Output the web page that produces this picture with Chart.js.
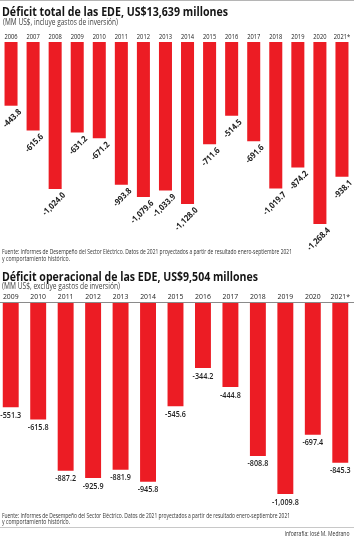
<!DOCTYPE html>
<html><head><meta charset="utf-8">
<script src="https://cdn.jsdelivr.net/npm/chart.js@4/dist/chart.umd.min.js"></script>
<style>
html,body{margin:0;padding:0;background:#fff;width:354px;height:536px;overflow:hidden;position:relative;font-family:"Open Sans",sans-serif;}
canvas{position:absolute;}
.t{position:absolute;white-space:nowrap;line-height:1;}
.rule{position:absolute;left:0;width:354px;height:1px;background:#b5b5b5;}
</style></head><body>
<div class="rule" style="top:0px;"></div>
<div class="rule" style="top:527px;background:#c8c8c8;"></div>
<canvas id="c1" width="354" height="258" style="left:0;top:0;"></canvas>
<canvas id="c2" width="357" height="252" style="left:-3px;top:260px;"></canvas>
<script>
// ---- data ----
const yearsTotal = ['2006','2007','2008','2009','2010','2011','2012','2013','2014','2015','2016','2017','2018','2019','2020','2021*'];
const deficitTotal = [-443.8,-615.6,-1024.0,-631.2,-671.2,-993.8,-1079.6,-1033.9,-1128.0,-711.6,-514.5,-691.6,-1019.7,-874.2,-1268.4,-938.1];
const yearsOper = ['2009','2010','2011','2012','2013','2014','2015','2016','2017','2018','2019','2020','2021*'];
const deficitOper = [-551.3,-615.8,-887.2,-925.9,-881.9,-945.8,-545.6,-344.2,-444.8,-808.8,-1009.8,-697.4,-845.3];

const RED = '#ec1c24';
const fmt = v => v.toLocaleString('en-US',{minimumFractionDigits:1,maximumFractionDigits:1});

function sq(ctx, t, x, y, s){ ctx.save(); ctx.translate(x,y); ctx.scale(s,1); ctx.fillText(t,0,0); ctx.restore(); }

const labelPlugin = {
  id:'lbl',
  afterDatasetsDraw(chart, args, o){
    const ctx = chart.ctx, xs = chart.scales.x, ys = chart.scales.y;
    const y0 = ys.getPixelForValue(0);
    ctx.save();
    if (o.axisLine){
      ctx.strokeStyle = '#8a8a8a'; ctx.lineWidth = 1;
      ctx.beginPath(); ctx.moveTo(0, y0-0.5); ctx.lineTo(chart.width, y0-0.5); ctx.stroke();
    }
    ctx.fillStyle = '#222';
    ctx.font = o.yearFont; ctx.textAlign='center'; ctx.textBaseline='middle';
    chart.data.labels.forEach((l,i)=>{ sq(ctx, l, xs.getPixelForValue(i), y0 + o.yearDy, o.yearSq); });
    const data = chart.data.datasets[0].data;
    ctx.font = o.valFont;
    chart.getDatasetMeta(0).data.forEach((b,i)=>{
      const t = fmt(data[i]);
      if (o.rotate){
        ctx.save(); ctx.translate(b.x + o.dx, b.y + o.dy); ctx.rotate(-Math.PI/4); ctx.scale(o.valSq,1);
        ctx.textAlign='right'; ctx.textBaseline='middle'; ctx.fillText(t,0,0); ctx.restore();
      } else {
        ctx.textAlign='center'; ctx.textBaseline='middle';
        sq(ctx, t, b.x + o.dx, b.y + o.dy, o.valSq);
      }
    });
    ctx.restore();
  }
};

function makeChart(id, labels, data, min, pad, barPct, lbl){
  return new Chart(document.getElementById(id), {
    type:'bar',
    data:{ labels, datasets:[{ data, backgroundColor:RED, borderWidth:0, categoryPercentage:1, barPercentage:barPct }]},
    options:{
      responsive:false, animation:false, events:[], devicePixelRatio:1,
      layout:{ padding:pad },
      scales:{ x:{ display:false }, y:{ display:false, min, max:0 } },
      plugins:{ legend:{display:false}, tooltip:{enabled:false}, lbl }
    },
    plugins:[labelPlugin]
  });
}

makeChart('c1', yearsTotal, deficitTotal, -1400, {top:42,left:0,right:1,bottom:15}, 0.59,
  { axisLine:false, yearFont:'400 7px "Open Sans"', yearDy:-5, yearSq:0.82,
    valFont:'700 8.5px "Open Sans"', valSq:0.9, rotate:true, dx:9, dy:5 });
makeChart('c2', yearsOper, deficitOper, -1100, {top:43,left:0,right:0,bottom:1}, 0.58,
  { axisLine:true, yearFont:'400 7px "Open Sans"', yearDy:-6, yearSq:0.98,
    valFont:'600 9px "Open Sans"', valSq:0.8, rotate:false, dx:0, dy:8 });

function txt(s, x, yc, targetW, size, weight, color, align){
  const d = document.createElement('div'); d.className='t'; d.textContent = s;
  d.style.font = `${weight} ${size}px "Open Sans"`; d.style.color = color;
  document.body.appendChild(d);
  const w = d.getBoundingClientRect().width;
  const s2 = targetW ? targetW / w : 1;
  d.style.top = (yc - 0.53*size) + 'px';
  if (align === 'right'){ d.style.left = (x - w) + 'px'; d.style.transformOrigin = '100% 0'; }
  else { d.style.left = x + 'px'; d.style.transformOrigin = '0 0'; }
  d.style.transform = `scaleX(${s2})`;
}
txt('Déficit total de las EDE, US$13,639 millones', 2, 8.7, 226, 13, 700, '#151515');
txt('(MM US$, incluye gastos de inversión)', 3, 20.5, 115, 8.5, 400, '#444');
txt('Fuente: Informes de Desempeño del Sector Eléctrico. Datos de 2021 proyectados a partir de resultado enero-septiembre 2021', 2, 250, 290, 6.5, 400, '#333');
txt('y comportamiento histórico.', 2, 257, 68, 6.5, 400, '#333');
txt('Déficit operacional de las EDE, US$9,504 millones', 2, 273.5, 256, 13, 700, '#151515');
txt('(MM US$, excluye gastos de inversión)', 2, 285, 118, 8.5, 400, '#444');
txt('Fuente: Informes de Desempeño del Sector Eléctrico. Datos de 2021 proyectados a partir de resultado enero-septiembre 2021', 2, 514, 288, 6.5, 400, '#333');
txt('y comportamiento histórico.', 2, 520, 68, 6.5, 400, '#333');
txt('Infografía: José M. Medrano', 350, 532.5, 65, 6.5, 400, '#333', 'right');
</script>
</body></html>
